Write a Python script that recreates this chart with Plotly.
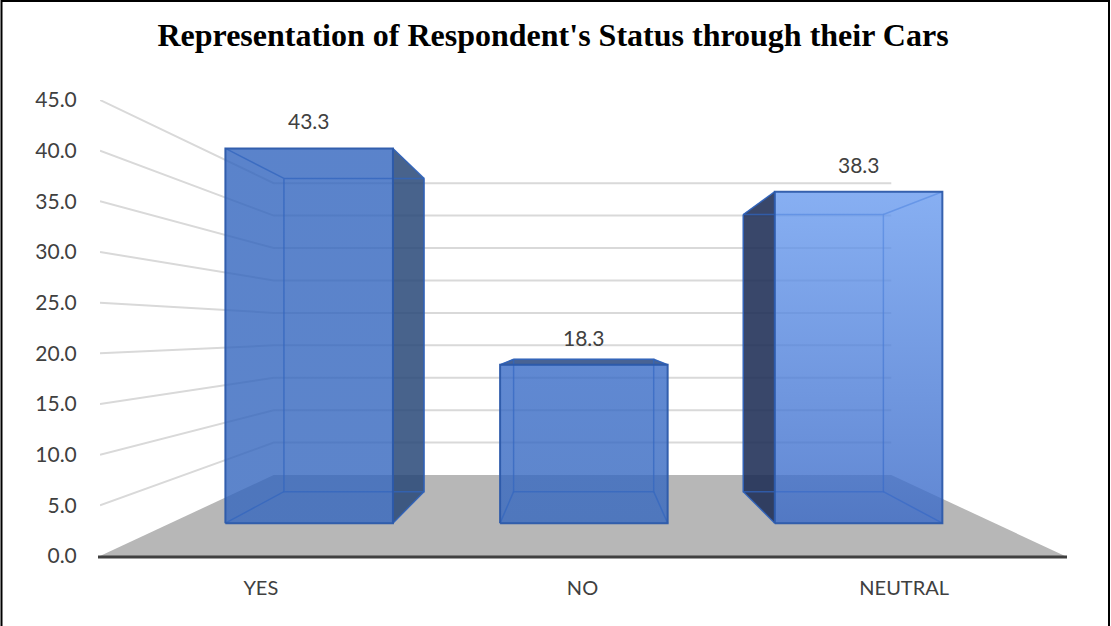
import plotly.graph_objects as go

# Survey results
categories = ["YES", "NO", "NEUTRAL"]
shares = [43.3, 18.3, 38.3]
value_ticks = [0, 5, 10, 15, 20, 25, 30, 35, 40, 45]

# Perspective box: s is the shrink factor at a given depth
VANISH_X, VANISH_V = 1.0, 22.2
S_FRONT_WALL, S_BACK_WALL = 1.0, 0.64
S_BAR_FRONT, S_BAR_BACK = 0.854, 0.714
BAR_HALF = 0.305
BAR_OFFSET = 0.005

# Front face colours (top, bottom), side colour per bar
FACE_TOP = ["rgba(49,100,190,0.8)", "rgba(56,107,199,0.8)", "rgba(105,155,239,0.8)"]
FACE_BOTTOM = ["rgba(52,102,190,0.8)", "rgba(53,103,190,0.8)", "rgba(57,105,199,0.8)"]
SIDE = ["rgba(40,72,120,0.85)", "rgba(40,72,130,0.85)", "rgba(30,45,85,0.88)"]
EDGE = "rgba(44,90,170,0.95)"
INNER_EDGE = "rgba(48,100,190,0.75)"


def project(x, v, s):
    """Map a category position and value at depth s onto the picture plane."""
    return VANISH_X + (x - VANISH_X) * s, VANISH_V + (v - VANISH_V) * s


def polygon(points, **kwargs):
    xs, ys = zip(*points)
    return go.Scatter(x=list(xs) + [xs[0]], y=list(ys) + [ys[0]], mode="lines",
                      fill="toself", hoverinfo="skip", showlegend=False, **kwargs)


fig = go.Figure()

# Wall gridlines: left wall running back, then across the back wall
x_left, x_right = -0.5, 2.5
for v in value_ticks[1:]:
    bx0, by = project(x_left, v, S_BACK_WALL)
    bx1, _ = project(x_right, v, S_BACK_WALL)
    fig.add_trace(go.Scatter(x=[x_left, bx0, bx1], y=[v, by, by], mode="lines",
                             line=dict(color="#d9d9d9", width=2),
                             hoverinfo="skip", showlegend=False))

# Floor
fig.add_trace(polygon(
    [project(x_left, 0, S_FRONT_WALL), project(x_right, 0, S_FRONT_WALL),
     project(x_right, 0, S_BACK_WALL), project(x_left, 0, S_BACK_WALL)],
    fillcolor="#b7b7b7", line=dict(width=0, color="#b7b7b7")))

# Bars
for i, value in enumerate(shares):
    lo, hi = i + BAR_OFFSET - BAR_HALF, i + BAR_OFFSET + BAR_HALF
    fbl = project(lo, 0, S_BAR_FRONT)
    fbr = project(hi, 0, S_BAR_FRONT)
    ftl = project(lo, value, S_BAR_FRONT)
    ftr = project(hi, value, S_BAR_FRONT)
    bbl = project(lo, 0, S_BAR_BACK)
    bbr = project(hi, 0, S_BAR_BACK)
    btl = project(lo, value, S_BAR_BACK)
    btr = project(hi, value, S_BAR_BACK)

    # Faces that stick out past the front rectangle are seen from outside and shaded
    shaded = []
    if bbl[0] < fbl[0]:
        shaded.append([fbl, ftl, btl, bbl])
    if bbr[0] > fbr[0]:
        shaded.append([fbr, ftr, btr, bbr])
    if btl[1] > ftl[1]:
        shaded.append([ftl, ftr, btr, btl])
    for face in shaded:
        fig.add_trace(polygon(face, fillcolor=SIDE[i], line=dict(color=EDGE, width=1)))

    # Edges of the rear box showing through the translucent front
    fig.add_trace(go.Scatter(
        x=[btl[0], btr[0], bbr[0], bbl[0], btl[0], None,
           ftl[0], btl[0], None, ftr[0], btr[0], None,
           fbl[0], bbl[0], None, fbr[0], bbr[0]],
        y=[btl[1], btr[1], bbr[1], bbl[1], btl[1], None,
           ftl[1], btl[1], None, ftr[1], btr[1], None,
           fbl[1], bbl[1], None, fbr[1], bbr[1]],
        mode="lines", line=dict(color=INNER_EDGE, width=1.5),
        hoverinfo="skip", showlegend=False))

    # Front face with a top-to-bottom gradient
    fig.add_trace(polygon(
        [fbl, fbr, ftr, ftl],
        fillgradient=dict(type="vertical",
                          colorscale=[[0, FACE_BOTTOM[i]], [1, FACE_TOP[i]]]),
        line=dict(color=EDGE, width=2)))

    # Value label above the bar
    label_x = project(i + BAR_OFFSET, value, S_BAR_FRONT)[0]
    fig.add_annotation(x=label_x, y=project(i, value, S_BAR_FRONT)[1],
                       text=f"{value:.1f}", showarrow=False, yanchor="bottom", yshift=13,
                       font=dict(family="Lato", size=21, color="#404040"))

# Baseline, running slightly past the floor corners
fig.add_shape(type="line", xref="paper", yref="paper", layer="above",
              x0=-2 / 965, x1=967 / 965, y0=-1 / 456, y1=-1 / 456,
              line=dict(color="#404040", width=3))

# Outer frame of the chart; its lower edge falls below the page
fig.add_shape(type="rect", xref="paper", yref="paper", layer="above",
              x0=-98.5 / 965, x1=1009 / 965,
              y0=-80 / 456, y1=555 / 456,
              line=dict(color="#000000", width=2), fillcolor="rgba(0,0,0,0)")

fig.update_layout(
    width=1111, height=626,
    margin=dict(l=100, r=46, t=100, b=70),
    paper_bgcolor="#ffffff", plot_bgcolor="#ffffff",
    showlegend=False,
    title=dict(text="<b>Representation of Respondent's Status through their Cars</b>",
               x=553 / 1111, xanchor="center", y=1 - 35 / 626, yanchor="middle",
               font=dict(family="Liberation Serif", size=32, color="#000000")),
    xaxis=dict(range=[x_left, x_right], tickvals=[0, 1, 2], ticktext=categories,
               showgrid=False, zeroline=False, showline=False,
               ticks="outside", ticklen=14, tickcolor="rgba(0,0,0,0)",
               tickfont=dict(family="Lato", size=20, color="#404040")),
    yaxis=dict(range=[0, 45], tickvals=value_ticks,
               ticktext=[f"{v:.1f}" for v in value_ticks],
               showgrid=False, zeroline=False, showline=False,
               ticks="outside", ticklen=18, tickcolor="rgba(0,0,0,0)",
               tickfont=dict(family="Lato", size=21, color="#404040")),
)

fig.write_html("out.html")
